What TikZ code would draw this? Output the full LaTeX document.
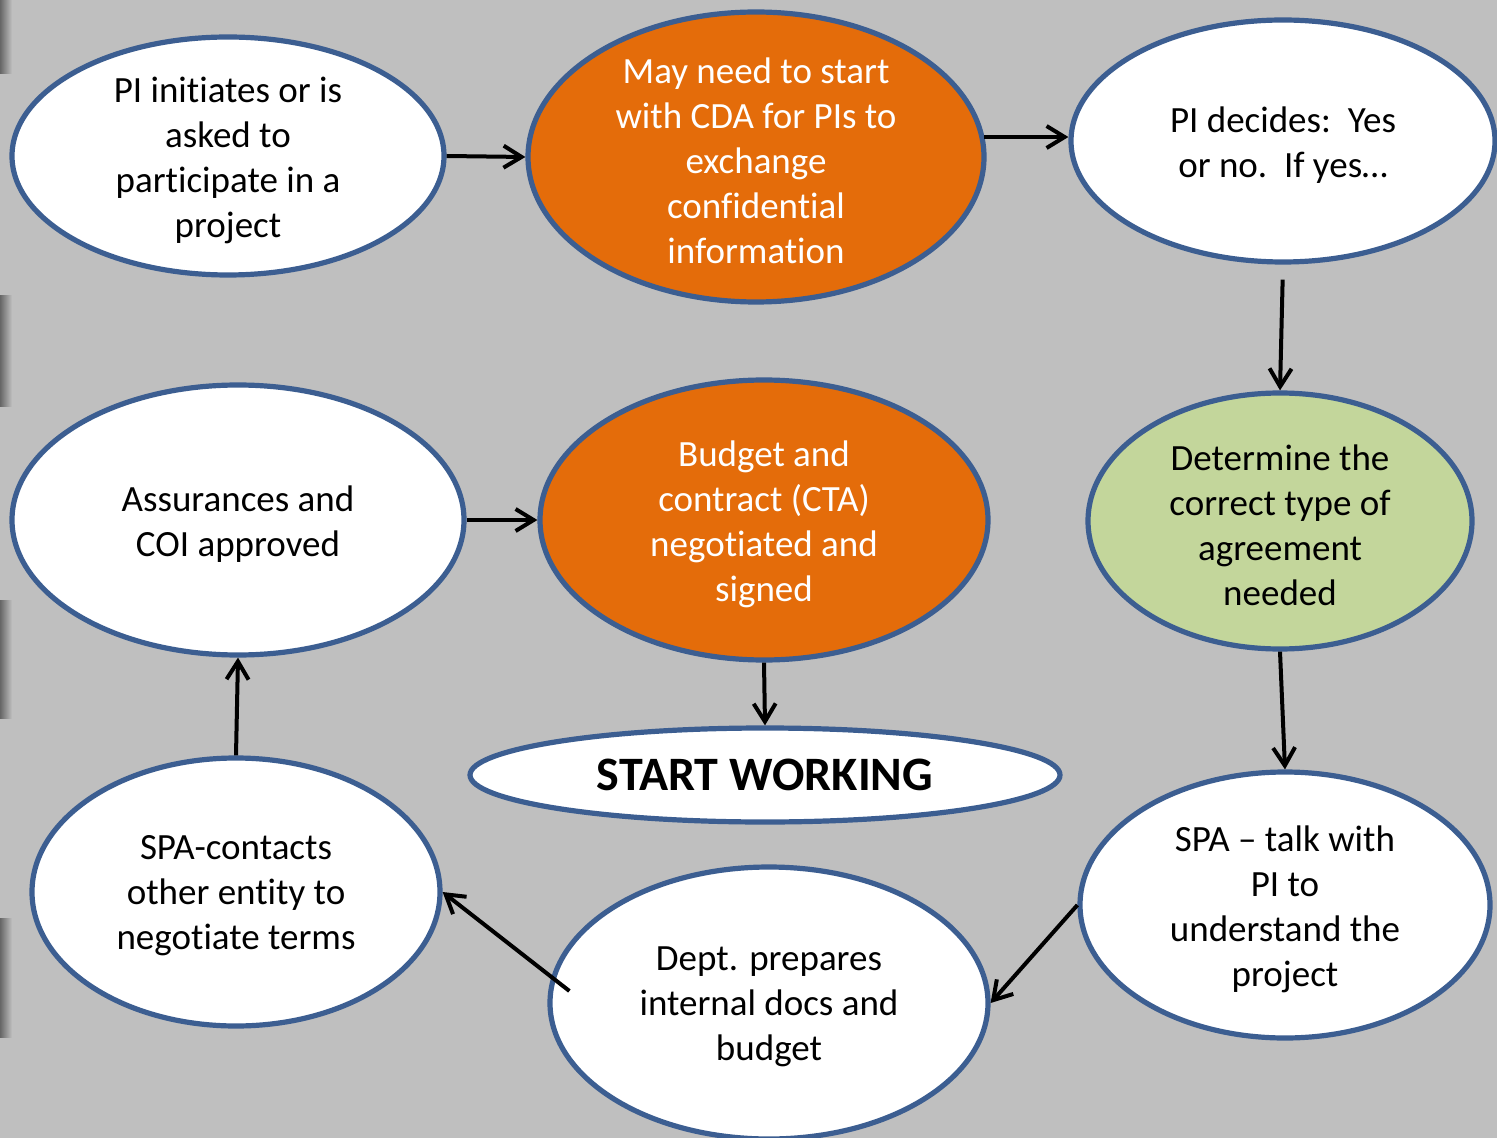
\documentclass[tikz,border=0pt]{standalone}
\usepackage{fontspec}
\setmainfont{Carlito}[Ligatures=NoCommon]
\usetikzlibrary{shapes.geometric,arrows.meta,calc}
\definecolor{bgc}{HTML}{BFBFBF}
\definecolor{rim}{HTML}{3C5E91}
\definecolor{orng}{HTML}{E46C0A}
\definecolor{grn}{HTML}{C3D69B}
\tikzset{
  oval/.style={ellipse, draw=rim, line width=2.6pt, inner sep=0pt, align=center},
  whiteoval/.style={oval, fill=white},
  orangeoval/.style={oval, fill=orng},
  greenoval/.style={oval, fill=grn},
  lbl/.style={align=center, font=\fontsize{18.5}{22.5}\selectfont, text=black, yshift=-2pt, inner sep=0pt},
  lblw/.style={lbl, text=white},
  startoval/.style={oval, fill=white, text=black, font=\fontsize{24}{28}\selectfont\bfseries},
  arr/.style={line width=2pt, draw=black, -{Straight Barb[length=9pt,width=11pt,line width=2pt]}},
  edgeshade/.style={left color=black!60, right color=bgc}
}
\begin{document}
\begin{tikzpicture}[x=0.5pt,y=-0.5pt]
\fill[bgc] (0,0) rectangle (1497,1138);
\useasboundingbox (0,0) rectangle (1497,1138);
\shade[edgeshade] (0,0) rectangle (12,74);
\shade[edgeshade] (0,296) rectangle (12,407);
\shade[edgeshade] (0,600) rectangle (12,718);
\shade[edgeshade] (0,918) rectangle (12,1037);

\node[whiteoval, minimum width=432pt/2, minimum height=238pt/2,
  label={[lbl]center:{PI initiates or is\\asked to\\participate in a\\project}}] (n1) at (228,156) {};
\node[orangeoval, minimum width=456pt/2, minimum height=290pt/2,
  label={[lblw]center:{May need to start\\with CDA for PIs to\\exchange\\confidential\\information}}] (n2) at (756,157) {};
\node[whiteoval, minimum width=424pt/2, minimum height=242pt/2,
  label={[lbl]center:{PI decides:\ \ Yes\\or no.\ \ If yes\dots}}] (n3) at (1283,141) {};
\node[greenoval, minimum width=384pt/2, minimum height=256pt/2,
  label={[lbl]center:{Determine the\\correct type of\\agreement\\needed}}] (n4) at (1280,521) {};
\node[whiteoval, minimum width=410pt/2, minimum height=266pt/2,
  label={[lbl]center:{SPA -- talk with\\PI to\\understand the\\project}}] (n5) at (1285,905) {};
\node[whiteoval, minimum width=438pt/2, minimum height=272pt/2,
  label={[lbl]center:{Dept. prepares\\internal docs and\\budget}}] (n6) at (769,1003) {};
\node[whiteoval, minimum width=408pt/2, minimum height=268pt/2,
  label={[lbl]center:{SPA-contacts\\other entity to\\negotiate terms}}] (n7) at (236,892) {};
\node[whiteoval, minimum width=452pt/2, minimum height=270pt/2,
  label={[lbl]center:{Assurances and\\COI approved}}] (n8) at (238,520) {};
\node[orangeoval, minimum width=448pt/2, minimum height=280pt/2,
  label={[lblw]center:{Budget and\\contract (CTA)\\negotiated and\\signed}}] (n9) at (764,520) {};
\node[startoval, minimum width=590pt/2, minimum height=94pt/2] (n10) at (765,775) {START WORKING};

\coordinate (s6) at ($(n6.west)+(22,-12)$);
\draw[arr] (n1.east) -- (n2.west);
\draw[arr] (n2.5) -- (n2.5 -| n3.west);
\draw[arr, shorten <=15pt/2] (n3.south) -- (n4.north);
\draw[arr] (n4.south) -- (n5.north);
\draw[arr] (n5.west) -- (n6.east);
\draw[arr] (s6) -- (n7.east);
\draw[arr] (n7.north) -- (n8.south);
\draw[arr] (n8.east) -- (n9.west);
\draw[arr] (n9.south) -- (n10.north);
\end{tikzpicture}
\end{document}
